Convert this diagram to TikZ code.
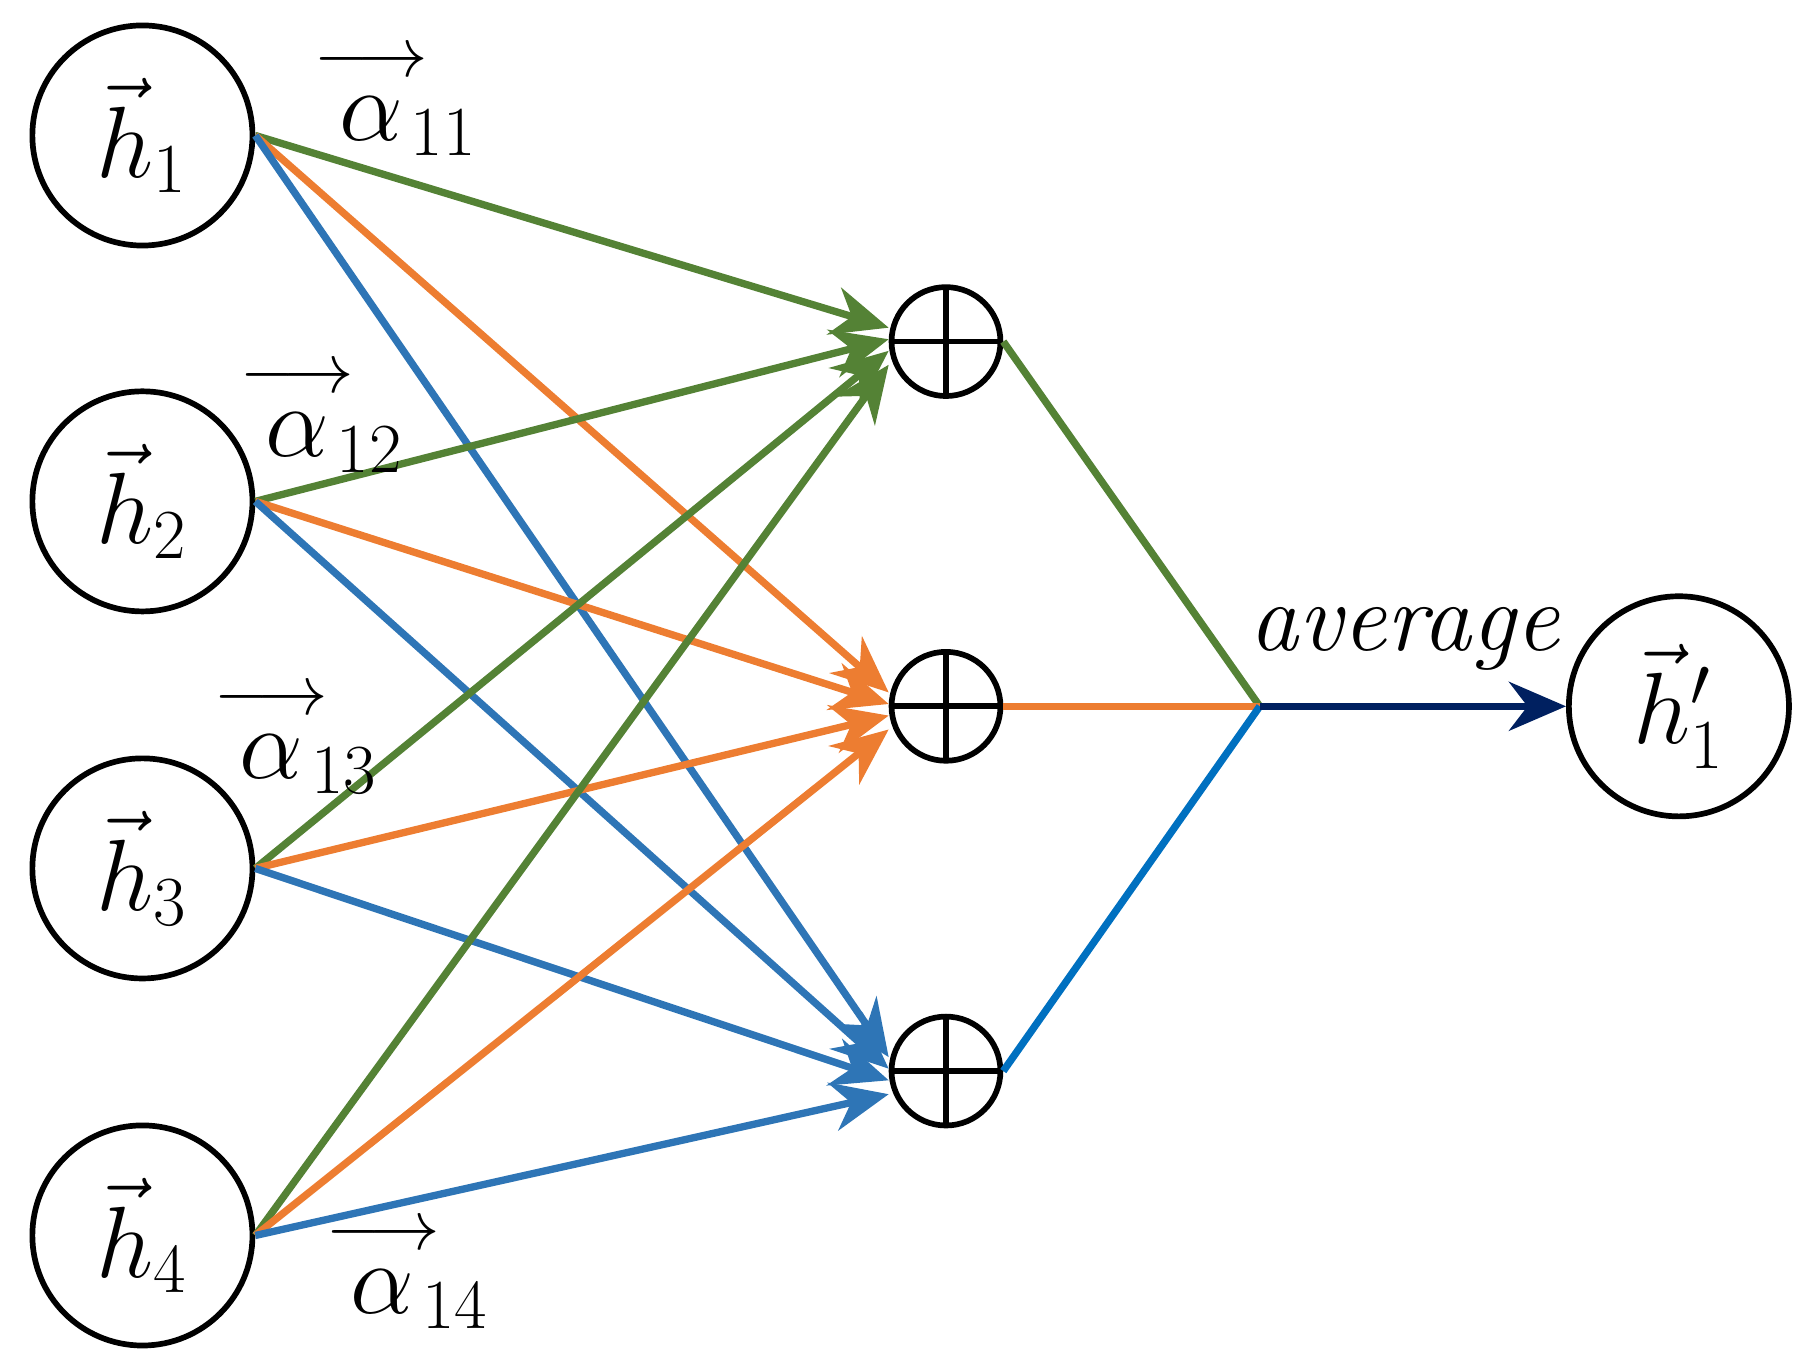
\documentclass[tikz,border=0pt]{standalone}
\usepackage{amsmath}
\usetikzlibrary{arrows.meta}
\definecolor{cg}{RGB}{84,130,53}
\definecolor{co}{RGB}{237,125,49}
\definecolor{cb}{RGB}{46,117,182}
\definecolor{cb2}{RGB}{0,112,192}
\definecolor{cn}{RGB}{0,32,96}
\newcommand{\myal}[1]{\overset{\rule{0pt}{0pt}\longrightarrow}{\alpha}\!_{#1}}
\begin{document}
\begin{tikzpicture}[x=0.01cm,y=-0.01cm,
  big/.style={circle,draw,line width=1.4pt,minimum size=1.9cm,inner sep=0pt,font=\fontsize{26}{30}\selectfont},
  plus/.style={circle,draw,line width=1.4pt,minimum size=0.94cm,inner sep=0pt,
    path picture={\draw[line width=1.4pt] (path picture bounding box.north)--(path picture bounding box.south)
      (path picture bounding box.west)--(path picture bounding box.east);}},
  e/.style={line width=1.8pt},
  a/.style={e,-{Stealth[length=14pt,width=12pt]}},
  lab/.style={font=\fontsize{26}{30}\selectfont}]
\useasboundingbox (0,0) rectangle (1552,1169);
\node[big] (h1) at (123,117) {$\vec h_1$};
\node[big] (h2) at (123,433) {$\vec h_2$};
\node[big] (h3) at (123,750) {$\vec h_3$};
\node[big] (h4) at (123,1067) {$\vec h_4$};
\node[plus] (p1) at (817,295) {};
\node[plus] (p2) at (817,610) {};
\node[plus] (p3) at (817,925) {};
\node[big] (ho) at (1450,610) {$\vec h_1'$};
\coordinate (j) at (1088,610);
\foreach \i/\dy in {1/-12,2/-2,3/8,4/20}{
  \draw[a,cg] (h\i.east) -- ([yshift=\dy*-0.01cm]p1.west);
  \draw[a,co] (h\i.east) -- ([yshift=\dy*-0.01cm]p2.west);
  \draw[a,cb] (h\i.east) -- ([yshift=\dy*-0.01cm]p3.west);
}
\draw[e,cg] (p1.east) -- (j);
\draw[e,co] (p2.east) -- (j);
\draw[e,cb2] (p3.east) -- (j);
\draw[e,cn,-{Stealth[length=14pt,width=12pt]}] (j) -- (ho.west);
\node[font=\fontsize{24}{28}\selectfont\itshape] (av) at (1213,552) {average};
\node[lab] (a1) at (342,85) {$\myal{11}$};
\node[lab] (a2) at (278,358) {$\myal{12}$};
\node[lab] (a3) at (256,636) {$\myal{13}$};
\node[lab] (a4) at (352,1098) {$\myal{14}$};
\end{tikzpicture}
\end{document}
